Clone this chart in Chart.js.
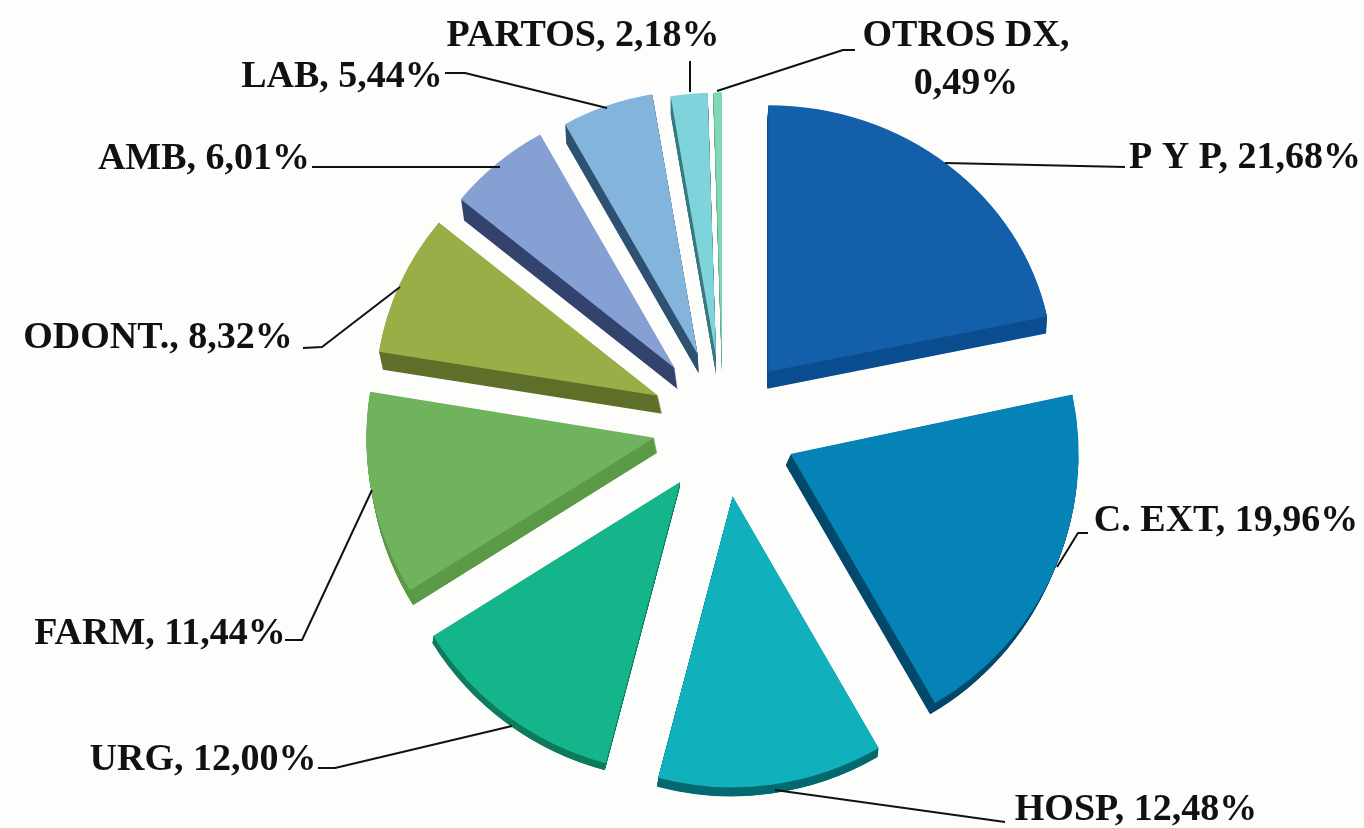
<!DOCTYPE html>
<html>
<head>
<meta charset="utf-8">
<style>html,body{margin:0;padding:0;background:#fdfdfc}canvas{display:block}</style>
<script src="https://cdn.jsdelivr.net/npm/chart.js@4"></script>
</head>
<body>
<canvas id="c" width="1364" height="828"></canvas>
<script>
const categories = ["P Y P","C. EXT","HOSP","URG","FARM","ODONT.","AMB","LAB","PARTOS","OTROS DX"];
const values = [21.68,19.96,12.48,12.00,11.44,8.32,6.01,5.44,2.18,0.49];
const faceColors = ["#135fa9","#0583b6","#10b0bc","#15b58b","#6fb35f","#98ae47","#86a0d4","#83b4dc","#7fd4dc","#7fd8b6"];
const sideColors = ["#0b4e90","#03496b","#066a70","#0e7c5e","#5c9a48","#5f702a","#33436e","#2f5272","#3b7a80","#5fa88d"];
const sliceShift = [72,74,73,72,70,71,75,76,70,70];
const sliceRadius = [285,288,291,291,288,283,276,272,272,272];
const sliceSquash = [0.935,1,1,1,1,0.97,0.97,0.97,0.97,0.97];
const depthX = [-1,-5,-1,-1,3,4,3,1,0,0];
const depthY = [17,11,9,7,15,18,21,19,18,15];
const labelLines = [["P Y P, 21,68%"],["C. EXT, 19,96%"],["HOSP, 12,48%"],["URG, 12,00%"],["FARM, 11,44%"],["ODONT., 8,32%"],["AMB, 6,01%"],["LAB, 5,44%"],["PARTOS, 2,18%"],["OTROS DX,","0,49%"]];
const labelAnchors = [[1245,168],[1226,531],[1136,820],[203,770],[160,644],[158,348],[204,169],[342,87],[583,46],[966,46]];
const leaders = [
 [[945,163],[1125,167]],
 [[1057,567],[1078,533],[1088,533]],
 [[775,790],[1005,822]],
 [[512,726],[335,768],[318,768]],
 [[372,490],[302,640],[285,640]],
 [[400,287],[322,347],[303,348]],
 [[500,167],[312,167]],
 [[607,108],[465,73],[445,73]],
 [[690,92],[690,61]],
 [[717,91],[843,50],[855,50]]
];
const lineGap = 48, baseRadius = 285;
const labelFont = "bold 38px 'Liberation Serif'";

const explode = {
  id:'explode',
  afterDatasetsUpdate(chart){
    chart.getDatasetMeta(0).data.forEach((arc,i)=>{
      const mid = (arc.startAngle+arc.endAngle)/2, s = sliceSquash[i];
      arc.x += Math.cos(mid)*sliceShift[i];
      arc.y += Math.sin(mid)*sliceShift[i]*s;
      arc.outerRadius = sliceRadius[i];
      const paint = arc.draw.bind(arc);
      arc.draw = ctx => {
        ctx.save();
        ctx.translate(arc.x,arc.y); ctx.scale(1,s); ctx.translate(-arc.x,-arc.y);
        paint(ctx);
        ctx.restore();
      };
    });
  }
};
const sides = {
  id:'sides',
  beforeDatasetsDraw(chart){
    const ctx = chart.ctx;
    chart.getDatasetMeta(0).data.forEach((arc,i)=>{
      ctx.fillStyle = sideColors[i];
      const steps = 24;
      for(let k=steps;k>=1;k--){
        const x = arc.x+depthX[i]*k/steps, y = arc.y+depthY[i]*k/steps;
        ctx.beginPath(); ctx.moveTo(x,y);
        ctx.ellipse(x,y,arc.outerRadius,arc.outerRadius*sliceSquash[i],0,arc.startAngle,arc.endAngle);
        ctx.closePath(); ctx.fill();
      }
    });
  }
};
const callouts = {
  id:'callouts',
  afterDraw(chart){
    const ctx = chart.ctx;
    ctx.save();
    ctx.strokeStyle='#111'; ctx.lineWidth=2; ctx.lineJoin='round';
    leaders.forEach(l=>{ ctx.beginPath(); l.forEach((q,j)=> j?ctx.lineTo(q[0],q[1]):ctx.moveTo(q[0],q[1])); ctx.stroke(); });
    ctx.fillStyle='#111'; ctx.font=labelFont; ctx.textAlign='center'; ctx.textBaseline='alphabetic';
    labelLines.forEach((lines,i)=> lines.forEach((t,j)=> ctx.fillText(t,labelAnchors[i][0],labelAnchors[i][1]+j*lineGap)));
    ctx.restore();
  }
};
new Chart(document.getElementById('c'),{
  type:'pie',
  data:{labels:categories,datasets:[{data:values,backgroundColor:faceColors,borderWidth:0,radius:baseRadius,clip:false}]},
  options:{
    responsive:false,animation:false,
    layout:{padding:{top:20,bottom:0,left:82,right:0}},
    plugins:{legend:{display:false},tooltip:{enabled:false}}
  },
  plugins:[explode,sides,callouts]
});
</script>
</body>
</html>
